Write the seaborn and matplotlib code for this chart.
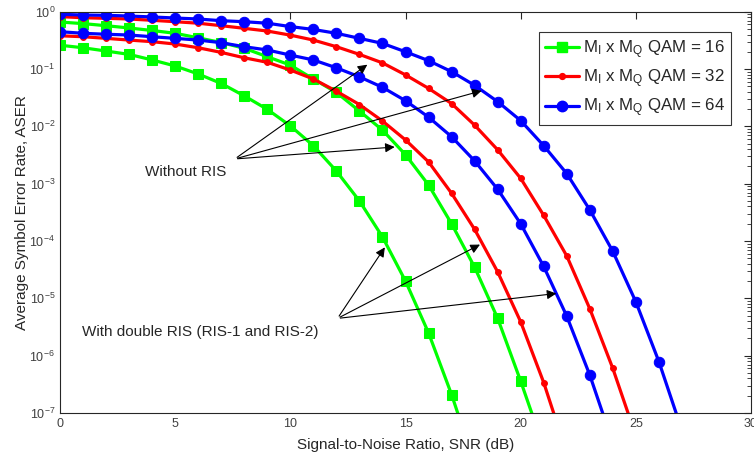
import numpy as np
import pandas as pd
import matplotlib
matplotlib.use("Agg")
import matplotlib.pyplot as plt
import seaborn as sns

# ASER values (one point per dB, starting at 0 dB)
green_ris = [0.26, 0.235, 0.206, 0.18, 0.144, 0.113, 0.082, 0.056, 0.034, 0.0198, 0.0102,
             0.0046, 0.00166, 5.0e-4, 1.18e-4, 2.0e-5, 2.5e-6, 2.1e-7, 1.3e-8]
green_no = [0.66, 0.62, 0.57, 0.52, 0.47, 0.42, 0.35, 0.29, 0.23, 0.164, 0.117, 0.067,
            0.039, 0.0185, 0.0086, 0.0032, 9.5e-4, 2.0e-4, 3.5e-5, 4.5e-6, 3.6e-7, 2.5e-8]
red_ris = [0.38, 0.366, 0.343, 0.32, 0.30, 0.273, 0.235, 0.195, 0.157, 0.131, 0.096, 0.067,
           0.041, 0.024, 0.0124, 0.0058, 0.0024, 6.8e-4, 1.6e-4, 2.9e-5, 3.9e-6, 3.4e-7, 2.0e-8]
red_no = [0.82, 0.785, 0.767, 0.746, 0.708, 0.669, 0.63, 0.57, 0.513, 0.46, 0.39, 0.32,
          0.245, 0.18, 0.128, 0.079, 0.046, 0.025, 0.0105, 0.0039, 0.00124, 2.8e-4, 5.5e-5,
          6.6e-6, 6.0e-7, 4e-8]
blue_ris = [0.448, 0.42, 0.404, 0.392, 0.366, 0.343, 0.32, 0.288, 0.245, 0.215, 0.175, 0.144,
            0.105, 0.073, 0.048, 0.028, 0.0145, 0.0066, 0.0025, 8.0e-4, 2.0e-4, 3.6e-5,
            4.9e-6, 4.6e-7, 3e-8]
blue_no = [0.90, 0.875, 0.865, 0.84, 0.81, 0.776, 0.746, 0.697, 0.669, 0.63, 0.55, 0.49,
           0.42, 0.343, 0.28, 0.2, 0.14, 0.09, 0.052, 0.027, 0.0126, 0.0046, 0.0015, 3.5e-4,
           6.6e-5, 8.7e-6, 7.9e-7, 5e-8]

qam_orders = [16, 32, 64]
colors = ["#00ff00", "#ff0000", "#0000ff"]
markers = ["s", "o", "o"]
msizes = [6.5, 4.2, 7.5]

sns.set_style("white")
plt.rcParams["font.family"] = ["Liberation Sans", "DejaVu Sans"]
plt.rcParams["mathtext.fontset"] = "custom"
plt.rcParams["mathtext.rm"] = "Liberation Sans"
plt.rcParams["mathtext.it"] = "Liberation Sans:italic"

fig = plt.figure(figsize=(7.54, 4.57), dpi=100)
ax = fig.add_axes([60 / 754, 44 / 457, 691 / 754, 401.3 / 457])
ax.set_yscale("log")

curves = [(green_ris, green_no), (red_ris, red_no), (blue_ris, blue_no)]
handles = []
for (ris, no), q, c, m, ms in zip(curves, qam_orders, colors, markers, msizes):
    for vals in (no, ris):
        df = pd.DataFrame({"snr": np.arange(len(vals)), "aser": vals})
        sns.lineplot(data=df, x="snr", y="aser", ax=ax, color=c, lw=2.3,
                     marker=m, markersize=ms, markeredgecolor=c, markerfacecolor=c)
    handles.append(plt.Line2D([], [], color=c, lw=2.3, marker=m, markersize=ms,
                              markeredgecolor=c, markerfacecolor=c,
                              label=r"M$_\mathrm{I}$ x M$_\mathrm{Q}$ QAM = %d" % q))

ax.set_xlim(0, 30)
ax.set_ylim(1e-7, 1)
ax.set_xticks([0, 5, 10, 15, 20, 25, 30])
ax.tick_params(which="both", direction="in", top=True, right=True,
               labelsize=9, labelcolor="#404040", color="#262626")
ax.tick_params(which="major", length=5)
ax.tick_params(which="minor", length=3)
ax.yaxis.set_minor_locator(matplotlib.ticker.LogLocator(base=10, subs=np.arange(2, 10), numticks=20))
ax.yaxis.set_minor_formatter(matplotlib.ticker.NullFormatter())
for s in ax.spines.values():
    s.set_color("#262626")
    s.set_linewidth(0.8)

ax.set_xlabel("Signal-to-Noise Ratio, SNR (dB)", fontsize=11, labelpad=6)
ax.set_ylabel("Average Symbol Error Rate, ASER", fontsize=11, labelpad=0)

# annotations
arrow = dict(arrowstyle="-|>", color="black", lw=0.8, mutation_scale=14)
start1 = (7.59, 2.7e-3)
for tgt in [(13.44, 0.127), (18.42, 0.043), (14.65, 0.0044)]:
    ax.annotate("", xy=tgt, xytext=start1, arrowprops=arrow)
ax.text(3.68, 10 ** -2.8, "Without RIS", fontsize=11, va="center", ha="left")

start2 = (12.05, 10 ** -5.35)
for tgt in [(14.17, 10 ** -4.07), (18.34, 10 ** -4.04), (21.67, 10 ** -4.91)]:
    ax.annotate("", xy=tgt, xytext=start2, arrowprops=arrow)
ax.text(0.95, 10 ** -5.59, "With double RIS (RIS-1 and RIS-2)", fontsize=11, va="center", ha="left")

leg = ax.legend(handles=handles, loc="upper right",
                bbox_to_anchor=((731 - 60) / 691, 1 - (32 - 11.7) / 401.3),
                bbox_transform=ax.transAxes, fontsize=12.2, frameon=True, fancybox=False,
                handlelength=2.0, handletextpad=0.25, borderpad=0.35, labelspacing=0.4,
                borderaxespad=0)
leg.get_frame().set_edgecolor("black")
leg.get_frame().set_linewidth(0.8)

plt.savefig("out.png", dpi=100)
plt.close()
